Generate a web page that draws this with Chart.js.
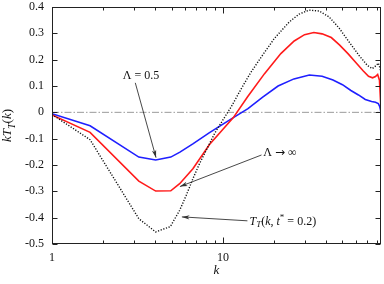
<!DOCTYPE html>
<html lang="en">
<head>
<meta charset="UTF-8" />
<title>kT_T(k)</title>
<script src="https://cdn.jsdelivr.net/npm/chart.js"></script>
<style>
  html, body { margin: 0; padding: 0; background: #fff; }
  #wrap { width: 384px; height: 284px; }
</style>
</head>
<body>
<div id="wrap"><canvas id="c" width="384" height="284"></canvas></div>
<script>
// curves (log k axis)
const kBlue = [1, 1.67, 3.22, 4.04, 4.95, 5.6, 6.7, 8.3, 10, 11.5, 14, 17, 21, 26, 32, 38, 44, 50, 56, 62, 68, 74, 78, 81, 82.5, 84];
const blueVals = [-0.005, -0.051, -0.170, -0.181, -0.170, -0.151, -0.119, -0.078, -0.045, -0.020, 0.014, 0.057, 0.100, 0.127, 0.142, 0.137, 0.123, 0.105, 0.083, 0.066, 0.049, 0.041, 0.038, 0.033, 0.023, 0.001];

const kRed = [1, 1.67, 3.22, 4.04, 4.95, 5.58, 6.67, 8.34, 9.97, 11.5, 13.9, 17.5, 21.8, 26.1, 30, 34, 38, 43, 48, 54, 60, 66, 71, 75, 78, 80.3, 82.3, 83.5, 84];
const redVals = [-0.010, -0.076, -0.261, -0.299, -0.298, -0.271, -0.214, -0.122, -0.065, -0.020, 0.058, 0.147, 0.223, 0.271, 0.295, 0.303, 0.298, 0.284, 0.256, 0.222, 0.188, 0.158, 0.137, 0.131, 0.136, 0.144, 0.122, 0.040, 0.020];

const kExact = [1, 1.67, 3.22, 4.04, 4.92, 5.58, 6.1, 6.67, 7.29, 7.98, 8.92, 9.97, 11.2, 12.8, 14.5, 16.7, 20, 24.4, 27.9, 31.9, 36.5, 41.8, 47.8, 54.7, 62.5, 69.9, 74.7, 78.8, 81, 82.5, 84];
const exactVals = [-0.008, -0.104, -0.404, -0.454, -0.434, -0.372, -0.315, -0.252, -0.195, -0.144, -0.081, -0.030, 0.022, 0.090, 0.150, 0.209, 0.281, 0.343, 0.373, 0.388, 0.385, 0.362, 0.320, 0.267, 0.216, 0.178, 0.166, 0.178, 0.187, 0.172, 0.150];

const kRange = [1, 84];
const yMin = -0.5, yMax = 0.4, yStep = 0.1;
const xLabelTicks = [1, 10];

const SERIF = "'Liberation Serif', 'DejaVu Serif', serif";
const SYMBOL = "'DejaVu Sans', sans-serif";

function pts(ks, vs) {
  return ks.map((k, i) => ({ x: k, y: vs[i] }));
}

// rich text pieces: i = italic, sub / sup = shifted smaller, f = other font
const tExact = [{ t: 'T', i: 1 }, { t: 'T', i: 1, sub: 1 }, { t: '(' }, { t: 'k', i: 1 }, { t: ', ' }, { t: 't', i: 1 }, { t: '*', sup: 1 }, { t: ' = 0.2)' }];
const yTitle = [{ t: 'kT', i: 1 }, { t: 'T', i: 1, sub: 1 }, { t: '(' }, { t: 'k', i: 1 }, { t: ')' }];

const notes = [
  { segs: [{ t: 'Λ = 0.5' }], at: [3.32, 0.137], align: 'center', from: [3.07, 0.112], to: [4.06, -0.172] },
  { segs: [{ t: 'Λ ' }, { t: '→', f: SYMBOL }, { t: ' ∞' }], at: [17.2, -0.155], align: 'left', from: [16.8, -0.162], to: [5.6, -0.282] },
  { segs: tExact, at: [14.3, -0.414], align: 'left', from: [13.9, -0.412], to: [5.75, -0.397] }
];

function segFont(s, size) {
  const sz = (s.sub || s.sup) ? Math.round(size * 0.75) : size;
  return (s.i ? 'italic ' : '') + sz + 'px ' + (s.f || SERIF);
}

function drawRich(ctx, segs, x, y, align, size) {
  let w = 0;
  segs.forEach(s => { ctx.font = segFont(s, size); w += ctx.measureText(s.t).width; });
  let cx = align === 'center' ? x - w / 2 : x;
  ctx.textAlign = 'left';
  ctx.textBaseline = 'middle';
  segs.forEach(s => {
    ctx.font = segFont(s, size);
    const dy = s.sub ? size * 0.3 : s.sup ? -size * 0.3 : 0;
    ctx.fillText(s.t, cx, y + dy);
    cx += ctx.measureText(s.t).width;
  });
}

function arrow(ctx, x0, y0, x1, y1) {
  const a = Math.atan2(y1 - y0, x1 - x0);
  ctx.beginPath();
  ctx.moveTo(x0, y0);
  ctx.lineTo(x1, y1);
  ctx.stroke();
  ctx.beginPath();
  ctx.moveTo(x1, y1);
  ctx.lineTo(x1 - 8 * Math.cos(a - 0.28), y1 - 8 * Math.sin(a - 0.28));
  ctx.lineTo(x1 - 5.5 * Math.cos(a), y1 - 5.5 * Math.sin(a));
  ctx.lineTo(x1 - 8 * Math.cos(a + 0.28), y1 - 8 * Math.sin(a + 0.28));
  ctx.closePath();
  ctx.fill();
}

// gnuplot style frame with inward ticks, y title and the arrow notes
const decor = {
  id: 'decor',
  afterDraw(chart) {
    const { ctx, chartArea: a, scales: { x, y } } = chart;
    const L = Math.round(a.left) + 0.5, R = Math.round(a.right) - 0.5;
    const T = Math.round(a.top) + 0.5, B = Math.round(a.bottom) - 0.5;
    ctx.save();
    ctx.strokeStyle = '#222';
    ctx.lineWidth = 1;
    ctx.strokeRect(L, T, R - L, B - T);

    ctx.beginPath();
    for (let d = 1; d <= kRange[1]; d *= 10) {
      for (let m = 1; m <= 9; m++) {
        const v = m * d;
        if (v < kRange[0] || v > kRange[1]) continue;
        const px = Math.round(x.getPixelForValue(v)) + 0.5;
        const len = m === 1 ? 6 : 3;
        ctx.moveTo(px, B); ctx.lineTo(px, B - len);
        ctx.moveTo(px, T); ctx.lineTo(px, T + len);
      }
    }
    for (let v = yMin; v <= yMax + 1e-9; v += yStep) {
      const py = Math.round(y.getPixelForValue(v)) + 0.5;
      ctx.moveTo(L, py); ctx.lineTo(L + 5, py);
      ctx.moveTo(R, py); ctx.lineTo(R - 5, py);
    }
    ctx.stroke();

    ctx.fillStyle = '#111';
    ctx.save();
    ctx.translate(8, (a.top + a.bottom) / 2);
    ctx.rotate(-Math.PI / 2);
    drawRich(ctx, yTitle, 0, 0, 'center', 13);
    ctx.restore();

    ctx.strokeStyle = '#333';
    ctx.fillStyle = '#333';
    ctx.lineWidth = 0.9;
    notes.forEach(n => {
      arrow(ctx,
        x.getPixelForValue(n.from[0]), y.getPixelForValue(n.from[1]),
        x.getPixelForValue(n.to[0]), y.getPixelForValue(n.to[1]));
    });
    ctx.fillStyle = '#111';
    notes.forEach(n => {
      drawRich(ctx, n.segs, x.getPixelForValue(n.at[0]), y.getPixelForValue(n.at[1]), n.align, 12);
    });
    ctx.restore();
  }
};

const ctx = document.getElementById('c').getContext('2d');

new Chart(ctx, {
  type: 'line',
  data: {
    datasets: [
      {
        label: 'Λ = 0.5',
        data: pts(kBlue, blueVals),
        borderColor: '#1f1fff',
        borderWidth: 1.6,
        pointRadius: 0,
        tension: 0,
        order: 2
      },
      {
        label: 'Λ → ∞',
        data: pts(kRed, redVals),
        borderColor: '#ff1a1a',
        borderWidth: 1.6,
        pointRadius: 0,
        tension: 0,
        order: 1
      },
      {
        label: 'T_T(k, t* = 0.2)',
        data: pts(kExact, exactVals),
        borderColor: '#111',
        borderWidth: 1.4,
        borderDash: [1.2, 1.6],
        pointRadius: 0,
        tension: 0,
        order: 0
      },
      {
        label: 'zero',
        data: pts(kRange, [0, 0]),
        borderColor: '#9a9a9a',
        borderWidth: 1,
        borderDash: [7, 2, 1.5, 2],
        pointRadius: 0,
        order: 5
      }
    ]
  },
  options: {
    responsive: false,
    animation: false,
    layout: { padding: { top: 7, right: 3, left: 0, bottom: 0 } },
    plugins: {
      legend: { display: false },
      tooltip: { enabled: false }
    },
    scales: {
      x: {
        type: 'logarithmic',
        min: kRange[0],
        max: kRange[1],
        grid: { display: false, drawTicks: false },
        border: { display: false },
        afterFit(s) {
          s.height = 40;
          s.paddingLeft = 0;
          s.paddingRight = 0;
        },
        ticks: {
          color: '#111',
          font: { family: SERIF, size: 12 },
          padding: 7,
          autoSkip: false,
          maxRotation: 0,
          callback: v => xLabelTicks.includes(v) ? String(v) : ''
        },
        title: {
          display: true,
          text: 'k',
          color: '#111',
          font: { family: SERIF, size: 13, style: 'italic' },
          padding: { top: 0, bottom: 6 }
        }
      },
      y: {
        min: yMin,
        max: yMax,
        grid: { display: false, drawTicks: false },
        border: { display: false },
        afterFit(s) {
          s.width = 52;
          s.paddingTop = 0;
          s.paddingBottom = 0;
        },
        ticks: {
          stepSize: yStep,
          color: '#111',
          font: { family: SERIF, size: 12 },
          padding: 8,
          callback: v => Math.abs(v) < 1e-9 ? '0' : (Math.round(v * 10) / 10).toFixed(1)
        }
      }
    }
  },
  plugins: [decor]
});
</script>
</body>
</html>
